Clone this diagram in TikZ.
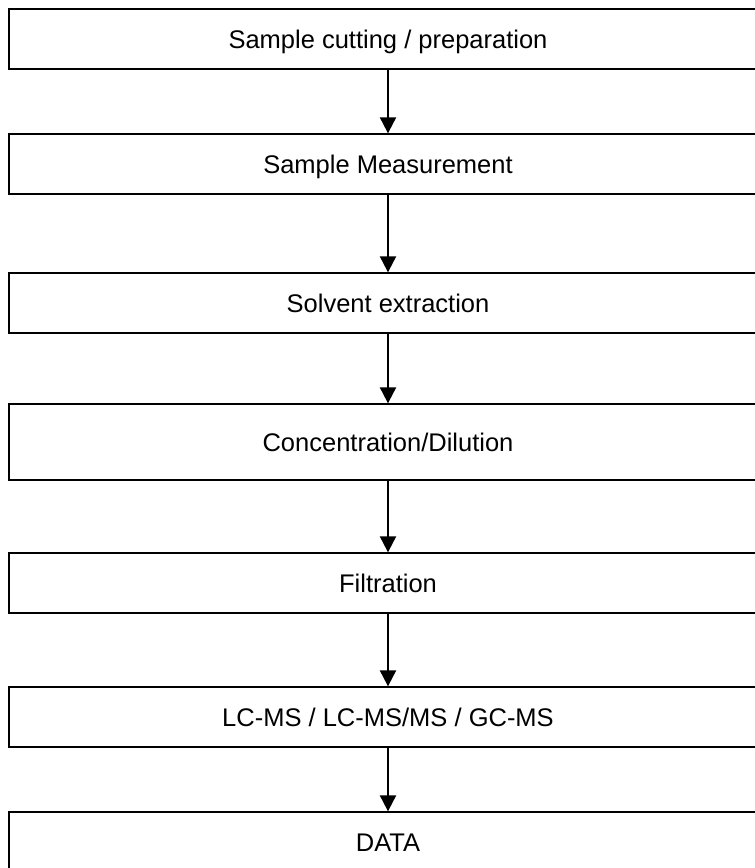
\documentclass[tikz,border=0pt]{standalone}
\usepackage{fontspec}
\setmainfont{Liberation Sans}
\usetikzlibrary{arrows.meta}
\tikzset{
  stage/.style={draw, line width=1.3pt, minimum width=758pt, minimum height=60pt,
    inner sep=0pt, text height=18.3pt, text depth=0pt,
    font=\fontsize{25.5}{30}\selectfont},
  flow/.style={line width=2pt, -{Triangle[width=16pt,length=16pt]}}
}

\begin{document}
\begin{tikzpicture}[x=1pt,y=1pt]
    \useasboundingbox (0,0) rectangle (755,-868);
    \clip (0,0) rectangle (755,-868);
    % process stages, top to bottom
    \node[stage] (cut)  at (388,-39)  {Sample cutting / preparation};
    \node[stage] (meas) at (388,-164) {Sample Measurement};
    \node[stage] (solv) at (388,-303) {Solvent extraction};
    \node[stage, minimum height=76pt] (conc) at (388,-442) {Concentration/Dilution};
    \node[stage] (filt) at (388,-583) {Filtration};
    \node[stage] (ms)   at (388,-717) {LC-MS / LC-MS/MS / GC-MS};
    \node[stage] (data) at (388,-842) {DATA};
    % connectors
    \foreach \a/\b in {cut/meas, meas/solv, solv/conc, conc/filt, filt/ms, ms/data}
        \draw[flow] (\a) -- (\b);
\end{tikzpicture}
\end{document}
